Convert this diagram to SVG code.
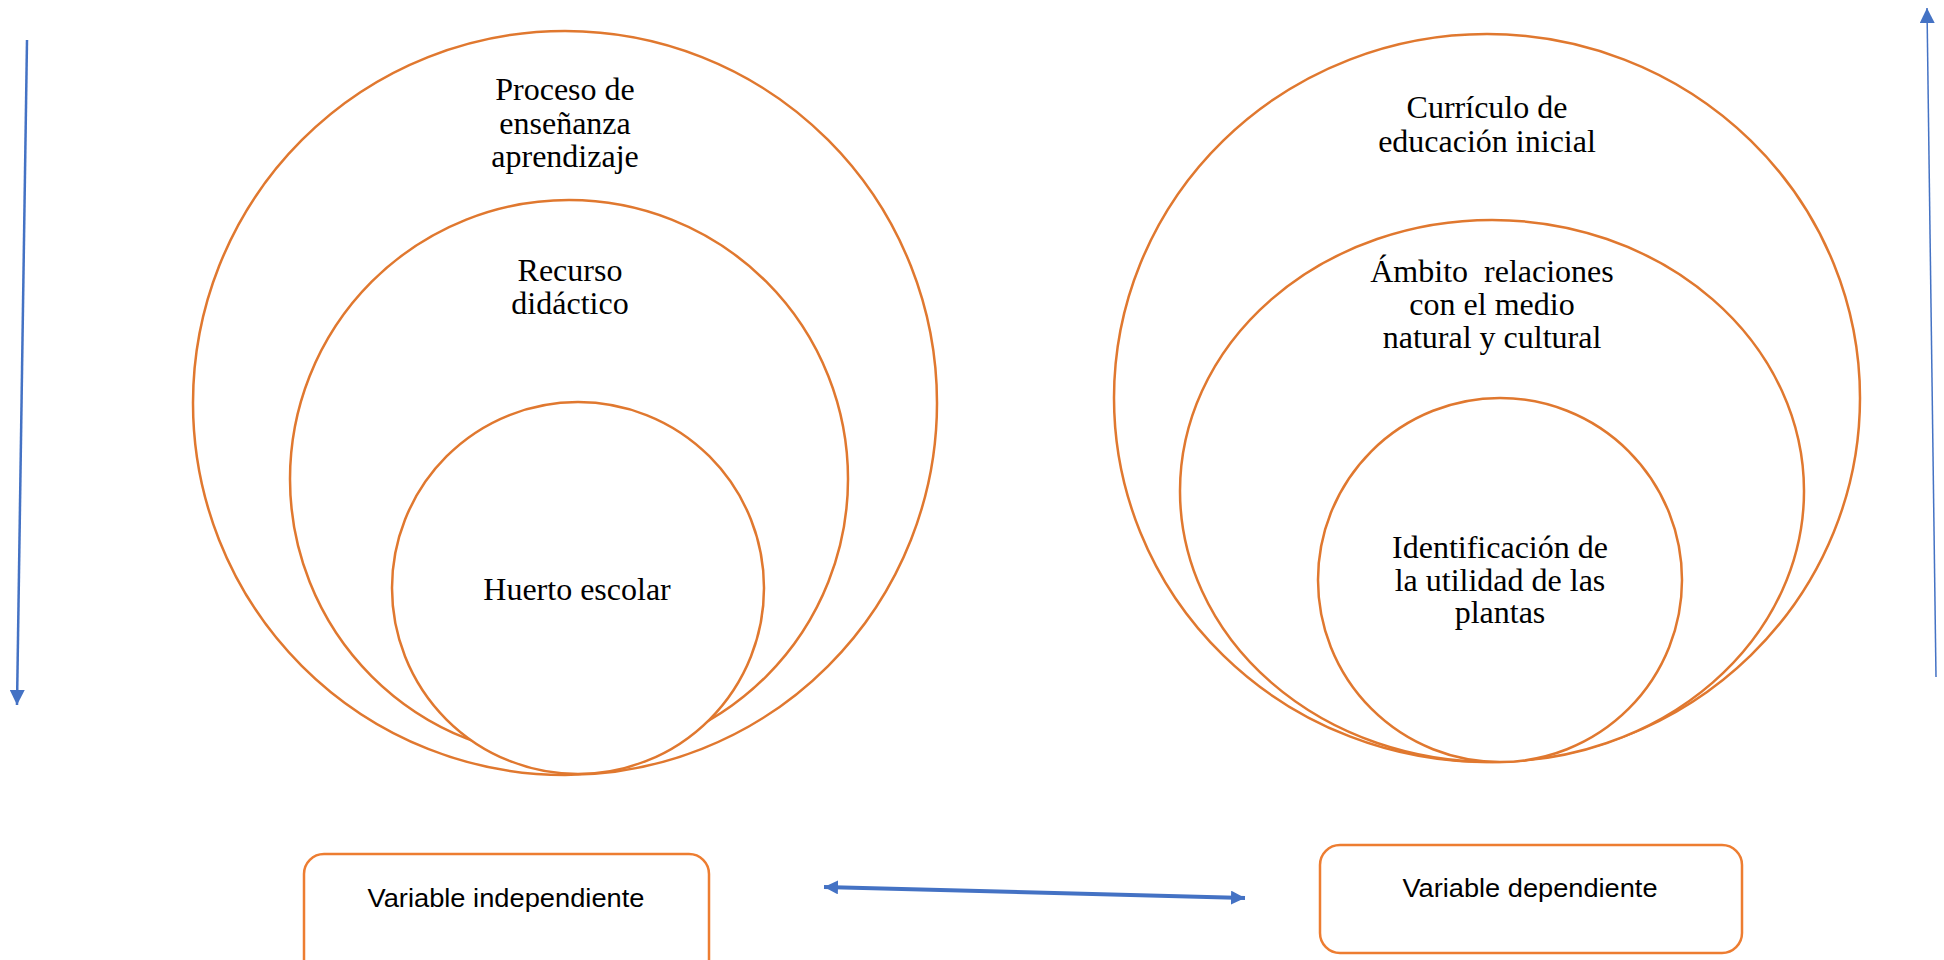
<svg xmlns="http://www.w3.org/2000/svg" width="1944" height="960" viewBox="0 0 1944 960">
<style>
.c{fill:#fff;stroke:#E0782F;stroke-width:2.5}
.b{fill:#fff;stroke:#ED7D31;stroke-width:2.5}
.t{font-family:"Liberation Serif","Times New Roman",serif;font-size:32px;fill:#000;text-anchor:middle}
.s{font-family:"Liberation Sans",Arial,sans-serif;font-size:26px;fill:#000;text-anchor:middle}
.a{fill:none;stroke:#4472C4}
</style>
<defs>
<marker id="h" viewBox="0 0 10 10" refX="10" refY="5" markerWidth="15" markerHeight="15" markerUnits="userSpaceOnUse" orient="auto-start-reverse">
<path d="M0,0 L10,5 L0,10 Z" fill="#4472C4"/>
</marker>
<marker id="h2" viewBox="0 0 10 10" refX="10" refY="5" markerWidth="14" markerHeight="14" markerUnits="userSpaceOnUse" orient="auto-start-reverse">
<path d="M0,0 L10,5 L0,10 Z" fill="#4472C4"/>
</marker>
</defs>
<rect width="1944" height="960" fill="#fff"/>
<g id="left-outer">
<circle class="c" cx="565" cy="403" r="372"/>
<text class="t" x="565" y="100">Proceso de</text>
<text class="t" x="565" y="134">enseñanza</text>
<text class="t" x="565" y="167">aprendizaje</text>
</g>
<g id="left-middle">
<circle class="c" cx="569" cy="479" r="279"/>
<text class="t" x="570" y="281">Recurso</text>
<text class="t" x="570" y="314">didáctico</text>
</g>
<g id="left-inner">
<circle class="c" cx="578" cy="588" r="186"/>
<text class="t" x="577" y="600">Huerto escolar</text>
</g>
<g id="right-outer">
<ellipse class="c" cx="1487" cy="398" rx="373" ry="364"/>
<text class="t" x="1487" y="118">Currículo de</text>
<text class="t" x="1487" y="152">educación inicial</text>
</g>
<g id="right-middle">
<ellipse class="c" cx="1492" cy="491" rx="312" ry="271"/>
<text class="t" x="1492" y="282" xml:space="preserve">Ámbito  relaciones</text>
<text class="t" x="1492" y="315">con el medio</text>
<text class="t" x="1492" y="348">natural y cultural</text>
</g>
<g id="right-inner">
<ellipse class="c" cx="1500" cy="580" rx="182" ry="182"/>
<text class="t" x="1500" y="558">Identificación de</text>
<text class="t" x="1500" y="591">la utilidad de las</text>
<text class="t" x="1500" y="623">plantas</text>
</g>
<g id="box-independiente">
<rect class="b" x="304" y="854" width="405" height="130" rx="20"/>
<text class="s" x="506" y="907" textLength="277" lengthAdjust="spacingAndGlyphs">Variable independiente</text>
</g>
<g id="box-dependiente">
<rect class="b" x="1320" y="845" width="422" height="108" rx="20"/>
<text class="s" x="1530" y="897" textLength="255" lengthAdjust="spacingAndGlyphs">Variable dependiente</text>
</g>
<g id="connectors">
<line class="a" x1="27" y1="40" x2="17" y2="705" stroke-width="2.5" marker-end="url(#h)"/>
<line class="a" x1="1936" y1="677" x2="1927" y2="8" stroke-width="1.5" marker-end="url(#h)"/>
<line class="a" x1="824" y1="887" x2="1245" y2="898" stroke-width="4" marker-start="url(#h2)" marker-end="url(#h2)"/>
</g>
</svg>
